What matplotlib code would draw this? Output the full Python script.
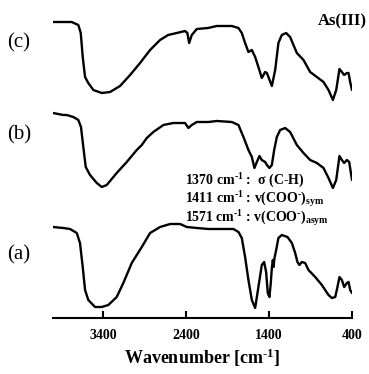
import matplotlib
matplotlib.use("Agg")
import matplotlib.pyplot as plt

plt.rcParams['font.family'] = ['Liberation Serif', 'DejaVu Serif']
plt.rcParams['mathtext.fontset'] = 'custom'
plt.rcParams['mathtext.rm'] = 'Liberation Serif:bold'
plt.rcParams['mathtext.it'] = 'Liberation Serif:bold'
plt.rcParams['mathtext.bf'] = 'Liberation Serif:bold'

# Wavenumber (cm-1) and transmittance (a.u., stacked) for each spectrum
wn_c = [4000, 3775, 3695, 3666, 3642, 3614, 3575, 3514, 3413, 3313, 3193, 3072, 2952,
        2831, 2711, 2614, 2510, 2410, 2382, 2361, 2329, 2269, 2133, 2028, 1847, 1767,
        1727, 1687, 1647, 1606, 1566, 1527, 1486, 1446, 1425, 1406, 1365, 1325, 1286,
        1245, 1193, 1145, 1064, 984, 904, 823, 743, 683, 630, 590, 551, 522, 494, 462,
        442, 422, 400]
t_c = [296, 296, 293, 285, 261, 241, 235, 228, 225, 226, 232, 243, 255,
       268, 278, 283, 285, 287, 285, 275, 283, 289, 290, 292, 292, 290,
       285, 275, 266, 268, 261, 251, 240, 246, 245, 241, 232, 248, 275,
       283, 285, 281, 265, 258, 246, 241, 236, 228, 218, 228, 249, 246, 243, 245,
       245, 236, 228]

wn_b = [4000, 3876, 3835, 3755, 3695, 3663, 3635, 3606, 3554, 3473, 3413, 3353, 3233,
        3112, 2992, 2931, 2871, 2792, 2671, 2551, 2410, 2370, 2329, 2269, 2129, 2028,
        1847, 1767, 1707, 1647, 1606, 1575, 1546, 1514, 1486, 1446, 1425, 1394, 1365,
        1337, 1305, 1265, 1205, 1145, 1064, 984, 904, 823, 743, 683, 630, 590, 551,
        522, 494, 462, 434, 400]
t_b = [205, 203, 203, 201, 198, 191, 171, 151, 143, 135, 131, 133, 145,
       156, 168, 173, 180, 186, 193, 195, 195, 190, 193, 196, 196, 197,
       196, 193, 181, 168, 161, 150, 156, 162, 158, 156, 153, 150, 153,
       168, 181, 188, 190, 186, 173, 165, 158, 155, 150, 140, 130, 138, 162,
       158, 155, 158, 156, 138]

wn_a = [4000, 3876, 3795, 3714, 3675, 3642, 3614, 3575, 3494, 3413, 3334, 3233, 3153,
        3052, 2931, 2831, 2711, 2590, 2470, 2389, 2269, 2129, 1828, 1767, 1727, 1687,
        1647, 1606, 1566, 1527, 1486, 1458, 1434, 1414, 1394, 1377, 1365, 1353, 1345,
        1333, 1313, 1286, 1245, 1177, 1124, 1084, 1057, 1033, 1004, 964, 924, 843,
        763, 683, 642, 602, 575, 551, 522, 494, 462, 442, 422, 400]
t_a = [91, 90, 89, 85, 75, 51, 28, 18, 11, 11, 13, 21, 35,
       55, 71, 85, 91, 94, 94, 91, 90, 89, 89, 86, 80, 61,
       38, 18, 10, 31, 53, 56, 46, 25, 21, 36, 50, 58, 51,
       60, 68, 80, 83, 81, 75, 65, 56, 53, 56, 55, 48, 41,
       33, 23, 20, 21, 31, 41, 38, 31, 35, 36, 28, 25]

tick_vals = [3400, 2400, 1400, 400]
panel_labels = ['(c)', '(b)', '(a)']

W, H = 369, 374
fig = plt.figure(figsize=(W / 100, H / 100), dpi=100)
ax = fig.add_axes([53 / W, 56 / H, 299 / W, 313 / H])

for wn, t in [(wn_c, t_c), (wn_b, t_b), (wn_a, t_a)]:
    ax.plot(wn, t, color='black', lw=1.7, solid_joinstyle='round', solid_capstyle='round')

ax.set_xlim(4000, 400)
ax.set_ylim(0, 313)
for s in ['top', 'left', 'right']:
    ax.spines[s].set_visible(False)
ax.spines['bottom'].set_linewidth(1.5)
ax.set_yticks([])
ax.set_xticks(tick_vals)
ax.set_xticklabels([str(v) for v in tick_vals], fontweight='bold', fontsize=10)
ax.tick_params(axis='x', direction='in', length=5, width=1.5, pad=8)
ax.set_xlabel(r'Wavenumber [cm$^{\text{-1}}$]', fontweight='bold', fontsize=13, labelpad=3)


def ftxt(x, y, s, **kw):
    fig.text(x / W, 1 - y / H, s, **kw)


for lab, yy in zip(panel_labels, [43, 135, 255]):
    ftxt(7, yy, lab, fontsize=15, va='center', ha='left')

ftxt(367, 21, 'As(III)', fontsize=12, fontweight='bold', ha='right', va='center')

ann = [r'1370 cm$^{\text{-1}}$ :  σ (C-H)',
       r'1411 cm$^{\text{-1}}$ : v(COO$^{\text{-}}$)$_{\mathrm{sym}}$',
       r'1571 cm$^{\text{-1}}$ : v(COO$^{\text{-}}$)$_{\mathrm{asym}}$']
for s, yy in zip(ann, [181, 199.5, 218]):
    ftxt(185, yy, s, fontsize=10, fontweight='bold', ha='left', va='center')

fig.savefig('out.png', dpi=100)
